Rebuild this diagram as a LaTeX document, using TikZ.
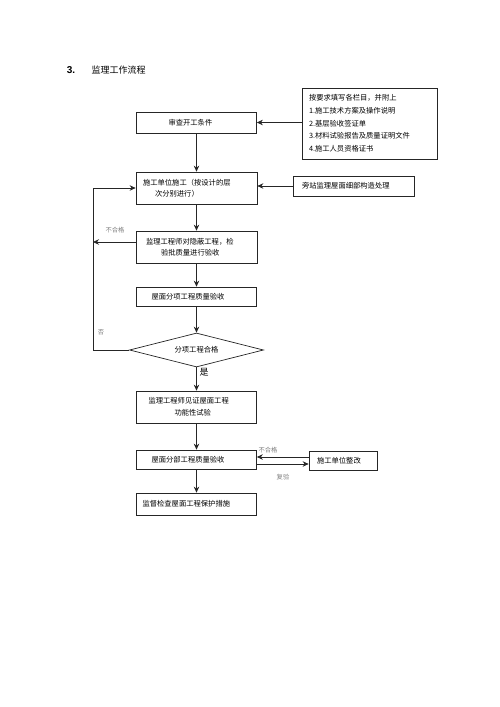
\documentclass[tikz,border=0pt]{standalone}
\usepackage{fontspec}
\setmainfont{Noto Sans CJK SC}
\newfontfamily\latinsans{Liberation Sans}
\usetikzlibrary{arrows.meta,shapes.geometric}
\begin{document}
\begin{tikzpicture}[x=1pt,y=-1pt,
  box/.style={draw=black!85,line width=0.7pt,inner xsep=0pt,inner ysep=0pt,align=left,font=\fontsize{7.3}{11}\selectfont,anchor=center},
  conn/.style={draw=black!85,line width=0.8pt,-{Stealth[length=6pt,width=5.5pt]}},
  line/.style={draw=black!85,line width=0.8pt},
  lbl/.style={text=black!50,font=\fontsize{6.3}{7}\selectfont,inner sep=0pt}]
\useasboundingbox (0,0) rectangle (500,707);
% title
\node[inner sep=0pt,font=\latinsans\bfseries\fontsize{10}{12}\selectfont] (num) at (71,70) {3.};
\node[inner sep=0pt,font=\fontsize{9}{11}\selectfont] (title) at (118.5,70) {监理工作流程};
% boxes
\node[box,text width=120pt,minimum height=21pt] (b1) at (196.5,122.5) {\hspace*{32pt}审查开工条件};
\node[box,text width=135pt,minimum height=71pt,font=\fontsize{7.3}{12.7}\selectfont] (req) at (369.5,123.5)
  {\hspace*{7pt}按要求填写各栏目，并附上\\\hspace*{7pt}1.施工技术方案及操作说明\\\hspace*{7pt}2.基层验收签证单\\\hspace*{7pt}3.材料试验报告及质量证明文件\\\hspace*{7pt}4.施工人员资格证书};
\node[box,text width=121pt,minimum height=32pt] (b2) at (196.5,188)
  {\hspace*{7pt}施工单位施工（按设计的层\\\hspace*{19pt}次分别进行）};
\node[box,text width=121pt,minimum height=20pt] (side) at (353.5,186) {\hspace*{9pt}旁站监理屋面细部构造处理};
\node[box,text width=121pt,minimum height=32pt,font=\fontsize{7.3}{10.5}\selectfont] (b3) at (196.5,247)
  {\hspace*{10pt}监理工程师对隐蔽工程，检\\\hspace*{25pt}验批质量进行验收};
\node[box,text width=120pt,minimum height=19pt] (b4) at (196.5,296.5) {\hspace*{15pt}屋面分项工程质量验收};
\node[draw=black!85,line width=0.7pt,diamond,aspect=3.94,minimum width=134pt,minimum height=34pt,inner sep=0pt,font=\fontsize{7.3}{9}\selectfont] (d) at (196.5,350) {分项工程合格};
\node[box,text width=120pt,minimum height=32pt,font=\fontsize{7.3}{12}\selectfont] (b5) at (196.5,407)
  {\hspace*{12pt}监理工程师见证屋面工程\\\hspace*{38pt}功能性试验};
\node[box,text width=120pt,minimum height=19pt] (b6) at (196.5,459.5) {\hspace*{15pt}屋面分部工程质量验收};
\node[box,text width=68pt,minimum height=19pt] (b7) at (343,460.5) {\hspace*{8pt}施工单位整改};
\node[box,text width=120pt,minimum height=22pt] (b8) at (196.5,504) {\hspace*{6pt}监督检查屋面工程保护措施};
% coordinates
\coordinate (loopT) at (93,188);
\coordinate (loopB) at (93,350);
\coordinate (fail1) at (93,242);
% main flow
\draw[conn] (b1.south) -- (b2.north);
\draw[conn] (b2.south) -- (b3.north);
\draw[conn] (b3.south) -- (b4.north);
\draw[conn] (b4.south) -- (d.north);
\draw[conn] (d.south) -- (b5.north);
\draw[conn] (b5.south) -- (b6.north);
\draw[conn] (b6.south) -- (b8.north);
% side inputs
\draw[conn] (req.west |- b1.east) -- (b1.east);
\draw[conn] (side.west) -- (side.west -| b2.east);
% loop back
\draw[conn] (d.west) -- (loopB) -- (loopT) -- (b2.west);
\draw[conn] (b3.west |- fail1) -- (fail1);
% rework
\draw[conn] ([yshift=-4.5pt]b6.east) -- ([yshift=-4.5pt]b6.east -| b7.west);
\draw[conn] ([yshift=2.5pt]b7.west |- b6.east) -- ([yshift=2.5pt]b6.east);
% labels
\node[lbl] (l1) at (115,230) {不合格};
\node[lbl] (l2) at (101,332) {否};
\node[inner sep=0pt,font=\fontsize{9}{10}\selectfont] (l3) at (204,372) {是};
\node[lbl] (l4) at (268,450) {不合格};
\node[lbl] (l5) at (283,477) {复验};
\end{tikzpicture}
\end{document}
